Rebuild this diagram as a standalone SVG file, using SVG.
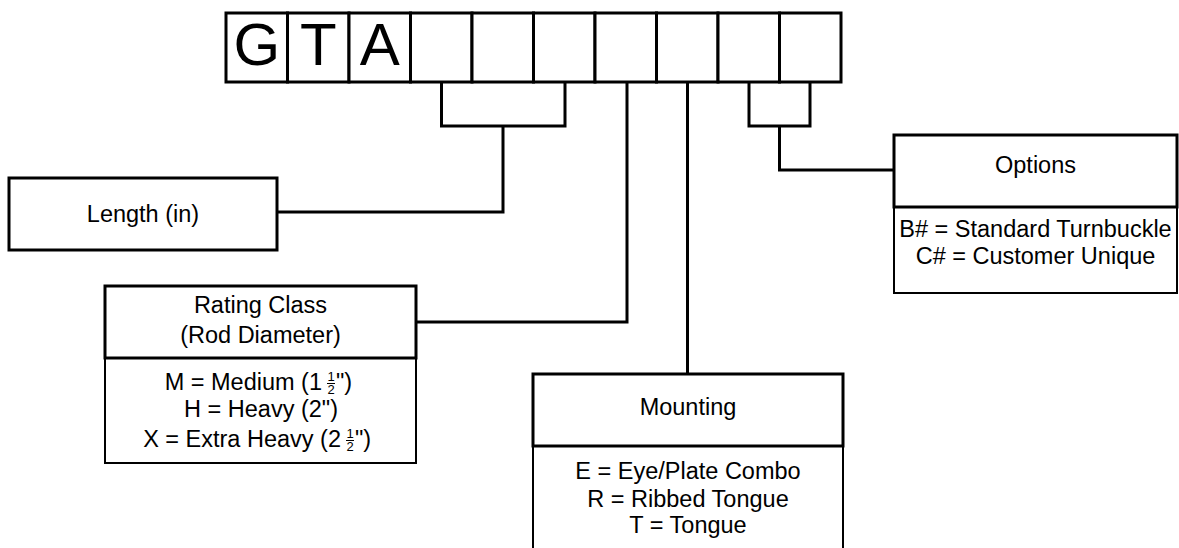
<svg xmlns="http://www.w3.org/2000/svg" width="1179" height="548" viewBox="0 0 1179 548">
<style>
text{font-family:"Liberation Sans",Arial,sans-serif;fill:#000}
.lbl{font-size:23.5px;text-anchor:middle}
.big{font-size:60px;text-anchor:middle}
.fr{font-size:13px;text-anchor:middle}
.hdr{fill:#fff;stroke:#000;stroke-width:3}
.low{fill:#fff;stroke:#000;stroke-width:2}
.cell{fill:#fff;stroke:#000;stroke-width:3}
.con{fill:none;stroke:#000;stroke-width:3}
.bar{stroke:#000;stroke-width:1}
</style>
<rect width="1179" height="548" fill="#fff"/>
<g id="code">
<rect class="cell" x="226" y="13" width="61.5" height="69"/>
<rect class="cell" x="287.5" y="13" width="61.5" height="69"/>
<rect class="cell" x="349" y="13" width="61.5" height="69"/>
<rect class="cell" x="410.5" y="13" width="61.5" height="69"/>
<rect class="cell" x="472" y="13" width="61.5" height="69"/>
<rect class="cell" x="533.5" y="13" width="61.5" height="69"/>
<rect class="cell" x="595" y="13" width="61.5" height="69"/>
<rect class="cell" x="656.5" y="13" width="61.5" height="69"/>
<rect class="cell" x="718" y="13" width="61.5" height="69"/>
<rect class="cell" x="779.5" y="13" width="61.5" height="69"/>
<text class="big" x="256.75" y="65">G</text>
<text class="big" x="318.25" y="65">T</text>
<text class="big" x="379.75" y="65">A</text>
</g>
<g id="connectors">
<path class="con" d="M441.5,82 V126 H565 V82 M503,126 V212 H277"/>
<path class="con" d="M627,82 V322 H416"/>
<path class="con" d="M687.5,82 V374"/>
<path class="con" d="M749,82 V126 H810 V82 M779.5,126 V170 H894"/>
</g>
<g id="length">
<rect class="hdr" x="9" y="178" width="268" height="72"/>
<text class="lbl" x="143" y="222">Length (in)</text>
</g>
<g id="rating">
<rect class="low" x="105" y="358" width="311" height="105"/>
<rect class="hdr" x="105" y="286" width="311" height="72"/>
<text class="lbl" x="260.5" y="313">Rating Class</text>
<text class="lbl" x="260.5" y="343">(Rod Diameter)</text>
<text class="lbl" x="322" y="390" style="text-anchor:end">M = Medium (1</text>
<text class="fr" x="331" y="381">1</text>
<line class="bar" x1="327" y1="383.5" x2="335" y2="383.5"/>
<text class="fr" x="331" y="394">2</text>
<text class="lbl" x="336" y="390" style="text-anchor:start">")</text>
<text class="lbl" x="261" y="417">H = Heavy (2")</text>
<text class="lbl" x="341" y="447" style="text-anchor:end">X = Extra Heavy (2</text>
<text class="fr" x="350" y="438">1</text>
<line class="bar" x1="346" y1="440.5" x2="354" y2="440.5"/>
<text class="fr" x="350" y="451">2</text>
<text class="lbl" x="355" y="447" style="text-anchor:start">")</text>
</g>
<g id="mounting">
<rect class="low" x="533" y="446" width="310" height="120"/>
<rect class="hdr" x="533" y="374" width="310" height="72"/>
<text class="lbl" x="688" y="415">Mounting</text>
<text class="lbl" x="688" y="479">E = Eye/Plate Combo</text>
<text class="lbl" x="688" y="507">R = Ribbed Tongue</text>
<text class="lbl" x="688" y="533">T = Tongue</text>
</g>
<g id="options">
<rect class="low" x="894" y="207" width="283" height="86"/>
<rect class="hdr" x="894" y="135" width="283" height="72"/>
<text class="lbl" x="1035.5" y="173">Options</text>
<text class="lbl" x="1035.5" y="237">B# = Standard Turnbuckle</text>
<text class="lbl" x="1035.5" y="264">C# = Customer Unique</text>
</g>
</svg>
